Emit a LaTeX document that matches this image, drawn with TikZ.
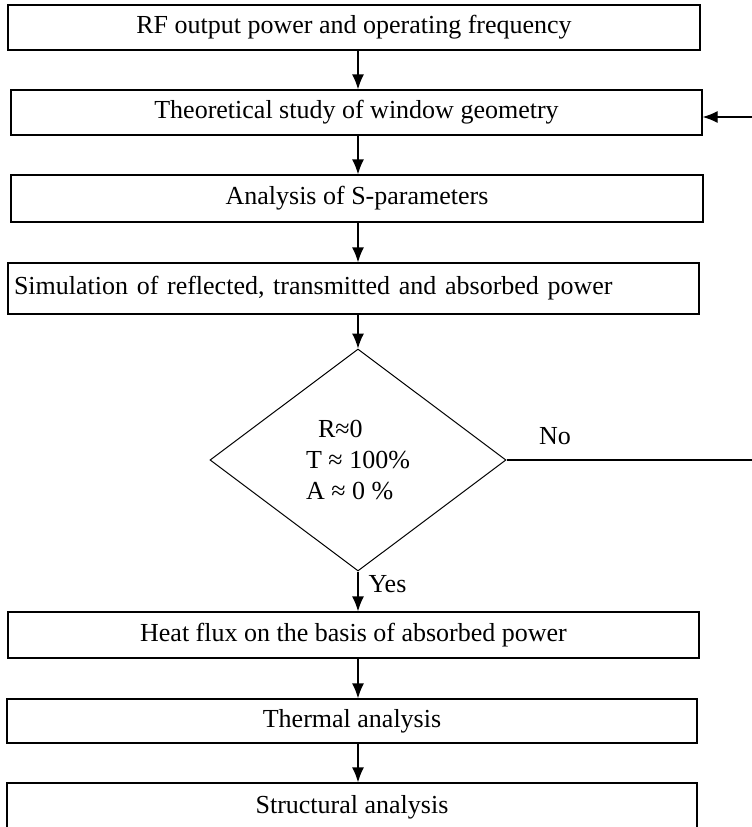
\documentclass[tikz,border=0pt]{standalone}
\usepackage{fontspec}
\setmainfont{Liberation Serif}
\usepackage{tikz}
\usetikzlibrary{arrows.meta,shapes.geometric,calc}
\tikzset{>={Latex[length=15pt,width=12pt]}}
\tikzset{stepbox/.style={draw,line width=1.3pt,inner sep=0pt,font=\fontsize{26}{31}\selectfont}}
\tikzset{flowline/.style={line width=1.3pt}}

\begin{document}
\begin{tikzpicture}[x=1pt,y=-1pt]
  \useasboundingbox (0,0) rectangle (752,827);

  % Boxes
  \node[stepbox,minimum width=692pt,minimum height=45pt] (power) at (354,27.5) {RF output power and operating frequency};
  \node[stepbox,minimum width=691pt,minimum height=45pt] (theory) at (356.5,112.5) {Theoretical study of window geometry};
  \node[stepbox,minimum width=692pt,minimum height=47pt] (spar) at (357,198.5) {Analysis of S-parameters};
  \node[stepbox,minimum width=691pt,minimum height=51pt,text width=679pt,align=left] (sim) at (353.5,288.5) {\makebox[654pt][s]{Simulation of reflected, transmitted and absorbed power}};

  % Decision
  \node[stepbox,diamond,line width=1pt,minimum width=296pt,minimum height=222pt,align=left] (check) at (358,460) {\hspace{12pt}R≈0\\T ≈ 100\%\\A ≈ 0 \%};

  \node[stepbox,minimum width=691pt,minimum height=46pt] (heat) at (353.5,635) {Heat flux on the basis of absorbed power};
  \node[stepbox,minimum width=690pt,minimum height=44pt] (thermal) at (352,721) {Thermal analysis};
  \node[stepbox,minimum width=690pt,minimum height=48pt] (struct) at (352,807) {Structural analysis};

  % Arrows
  \draw[flowline,->] (power.south -| check) -- (theory.north -| check);
  \draw[flowline,->] (theory.south -| check) -- (spar.north -| check);
  \draw[flowline,->] (spar.south -| check) -- (sim.north -| check);
  \draw[flowline,->] (sim.south -| check) -- (check.north);
  \draw[flowline,->] (check.south) -- (heat.north -| check);
  \draw[flowline,->] (heat.south -| check) -- (thermal.north -| check);
  \draw[flowline,->] (thermal.south -| check) -- (struct.north -| check);

  % Feedback
  \coordinate (backlow) at (752,460);
  \coordinate (backtop) at (752,117);
  \draw[flowline] (check.east) -- (backlow);
  \draw[flowline,->] (backtop) -- (theory.east |- backtop);

  % Labels
  \node[font=\fontsize{26}{31}\selectfont] (no) at (555,436) {No};
  \node[font=\fontsize{26}{31}\selectfont,anchor=west] (yes) at (365,584) {Yes};

\end{tikzpicture}
\end{document}
